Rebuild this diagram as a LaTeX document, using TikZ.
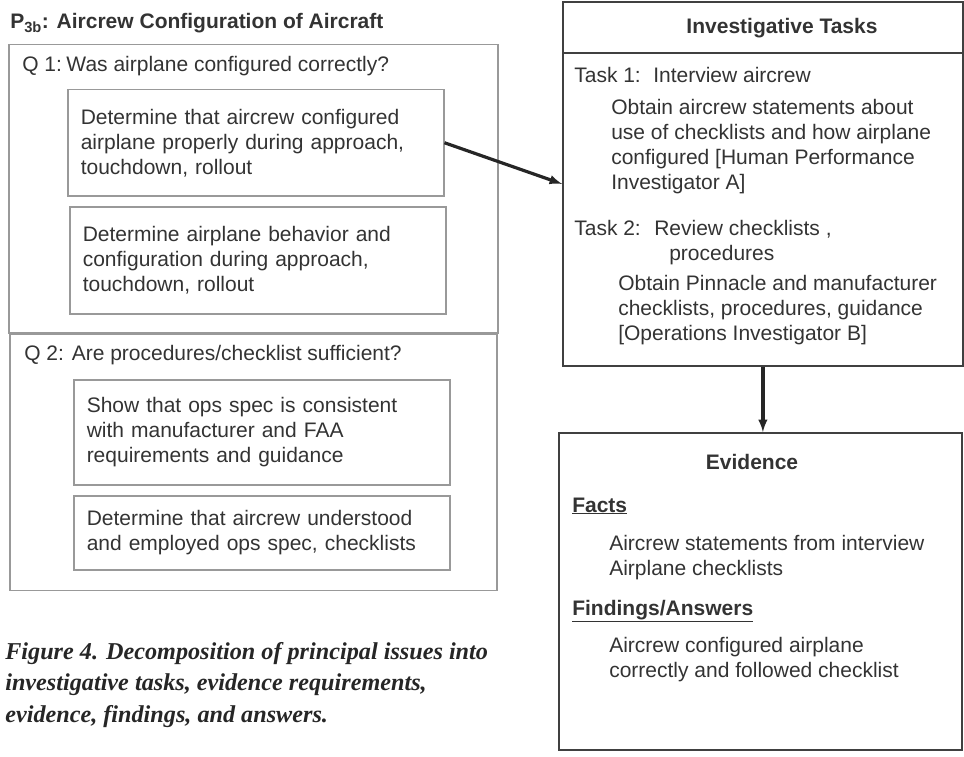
\documentclass[tikz,border=0pt]{standalone}
\usepackage{fontspec}
\setmainfont{Liberation Serif}
\setsansfont{Liberation Sans}
\usetikzlibrary{positioning}

\begin{document}
\begin{tikzpicture}[x=1pt, y=-1pt, -latex, semithick,
txt/.style={font=\sffamily\fontsize{21}{25}\selectfont, text=black!80, inner sep=0pt, align=left},
hd/.style={txt, font=\sffamily\bfseries\fontsize{21}{25}\selectfont},
qbox/.style={draw=black!40, line width=1.5pt, anchor=north west, inner sep=0pt},
dbox/.style={txt, draw=black!40, line width=1.5pt, anchor=north west, inner xsep=13pt, inner ysep=0pt, text width=350pt, minimum height=#1},
tbox/.style={draw=black!75, line width=1.8pt, anchor=north west, inner sep=0pt},
link/.style={draw=black!85, line width=3.2pt},
captxt/.style={font=\rmfamily\bfseries\itshape\fontsize{24.2}{31.5}\selectfont, text=black!85, inner sep=0pt, align=left, anchor=north west}]
\useasboundingbox (0,0) rectangle (964,757);
% left: issue and questions
\node[hd, anchor=base west] (title) at (10,29) {P\textsubscript{3b}: Aircrew Configuration of Aircraft};
\node[qbox, minimum width=489pt, minimum height=288pt] (q1) at (8,44) {};
\node[qbox, minimum width=487pt, minimum height=256pt] (q2) at ([xshift=1pt]q1.south west) {};
\node[txt, anchor=base west] (q1t) at (22,72) {Q 1:\hspace{4.5pt}Was airplane configured correctly?};
\node[txt, anchor=base west] (q2t) at (24,360) {Q 2: Are procedures/checklist sufficient?};
\node[dbox=106pt] (d1) at (67,89) {Determine that aircrew configured\\airplane properly during approach,\\touchdown, rollout};
\node[dbox=107pt] (d2) at (69,206) {Determine airplane behavior and\\configuration during approach,\\touchdown, rollout};
\node[dbox=105pt] (d3) at (73,379) {Show that ops spec is consistent\\with manufacturer and FAA\\requirements and guidance};
\node[dbox=74pt] (d4) at (73,495) {Determine that aircrew understood\\and employed ops spec, checklists};
% right: tasks
\node[tbox, minimum width=400pt, minimum height=364pt] (tasks) at (562,1) {};
\draw[-, draw=black!75, line width=1.8pt] ([yshift=-52pt]tasks.north west) -- ([yshift=-52pt]tasks.north east);
\node[hd, anchor=base] (taskhd) at (782,34) {Investigative Tasks};
\node[txt, anchor=base west] (t1) at (574,83) {\makebox[79pt][l]{Task 1:}Interview aircrew};
\node[txt, anchor=north west] (t1b) at (611,99) {Obtain aircrew statements about\\use of checklists and how airplane\\configured [Human Performance\\Investigator A]};
\node[txt, anchor=north west] (t2) at (574,220) {\makebox[80pt][l]{Task 2:}Review checklists ,\\\hspace*{95pt}procedures};
\node[txt, anchor=north west] (t2b) at (618,275) {Obtain Pinnacle and manufacturer\\checklists, procedures, guidance\\{[}Operations Investigator B{]}};
% evidence
\node[tbox, minimum width=403pt, minimum height=317pt] (evid) at (558,432) {};
\node[hd, anchor=base] (evhd) at (752,469) {Evidence};
\node[hd, anchor=base west] (facts) at (572,512) {\underline{Facts}};
\node[txt, anchor=north west] (factl) at (609,535) {Aircrew statements from interview\\Airplane checklists};
\node[hd, anchor=base west] (find) at (572,615) {\underline{Findings/Answers}};
\node[txt, anchor=north west] (findl) at (609,637) {Aircrew configured airplane\\correctly and followed checklist};
% caption
\node[captxt] (caption) at (5,642) {Figure 4. Decomposition of principal issues into\\investigative tasks, evidence requirements,\\evidence, findings, and answers.};
\draw[link] (d1.east) -- (tasks.west);
\draw[link] (tasks.south) -- (tasks.south |- evid.north);
\end{tikzpicture}
\end{document}
